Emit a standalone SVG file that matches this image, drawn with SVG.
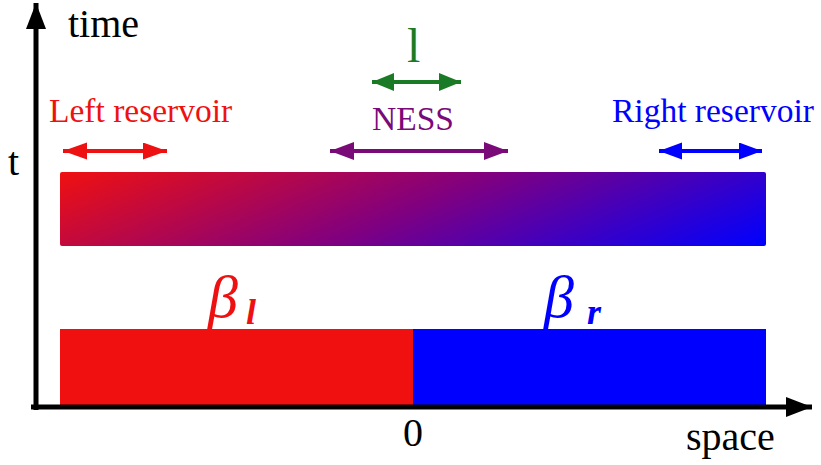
<svg xmlns="http://www.w3.org/2000/svg" width="821" height="465" viewBox="0 0 821 465">
  <style>
    .lbl { font-size: 33.5px; }
    .ax { font-size: 40px; fill: #000; }
    .beta { font-style: italic; font-size: 60px; }
    .sub { font-style: italic; font-weight: bold; font-size: 36px; }
    .axis { stroke: #000; stroke-width: 5; fill: none; }
    .dbl { stroke-width: 4; fill: none; }
  </style>
  <defs>
    <linearGradient id="grad" gradientUnits="userSpaceOnUse" x1="60" y1="172" x2="192" y2="486">
      <stop offset="0" stop-color="#f01010"/>
      <stop offset="0.5" stop-color="#800080"/>
      <stop offset="1" stop-color="#0000ff"/>
    </linearGradient>
    <marker id="hk" markerUnits="userSpaceOnUse" markerWidth="28" markerHeight="22" refX="26" refY="10" orient="auto-start-reverse">
      <path d="M0,0 L26,10 L0,20 Z" fill="#000"/>
    </marker>
    <marker id="hr" markerUnits="userSpaceOnUse" markerWidth="26" markerHeight="20" refX="24" refY="8.5" orient="auto-start-reverse">
      <path d="M0,0 L24,8.5 L0,17 Z" fill="#ee1111"/>
    </marker>
    <marker id="hg" markerUnits="userSpaceOnUse" markerWidth="26" markerHeight="20" refX="22" refY="9" orient="auto-start-reverse">
      <path d="M0,0 L22,9 L0,18 Z" fill="#1a7a25"/>
    </marker>
    <marker id="hp" markerUnits="userSpaceOnUse" markerWidth="26" markerHeight="20" refX="24" refY="9" orient="auto-start-reverse">
      <path d="M0,0 L24,9 L0,18 Z" fill="#7a0a78"/>
    </marker>
    <marker id="hb" markerUnits="userSpaceOnUse" markerWidth="26" markerHeight="20" refX="23" refY="8.5" orient="auto-start-reverse">
      <path d="M0,0 L23,8.5 L0,17 Z" fill="#0000ff"/>
    </marker>
  </defs>

  <g id="ness-bar">
    <rect x="60" y="172" width="706" height="74" rx="2" fill="url(#grad)"/>
  </g>
  <g id="initial-left">
    <rect x="60" y="329" width="353" height="76" fill="#f01010"/>
  </g>
  <g id="initial-right">
    <rect x="413" y="329" width="353" height="76" fill="#0000ff"/>
  </g>

  <g id="connectors">
    <line class="axis" x1="36" y1="410" x2="36" y2="3" marker-end="url(#hk)"/>
    <line class="axis" x1="31" y1="407" x2="812" y2="407" marker-end="url(#hk)"/>
    <line class="dbl" stroke="#ee1111" x1="63" y1="151" x2="167" y2="151" marker-start="url(#hr)" marker-end="url(#hr)"/>
    <line class="dbl" stroke="#1a7a25" x1="372" y1="82" x2="461" y2="82" marker-start="url(#hg)" marker-end="url(#hg)"/>
    <line class="dbl" stroke="#7a0a78" x1="330" y1="151" x2="508" y2="151" marker-start="url(#hp)" marker-end="url(#hp)"/>
    <line class="dbl" stroke="#0000ff" x1="659" y1="151" x2="762" y2="151" marker-start="url(#hb)" marker-end="url(#hb)"/>
  </g>

  <g id="labels" font-family="Liberation Serif, serif">
    <text class="ax" x="68" y="37">time</text>
    <text class="ax" x="8" y="175">t</text>
    <text class="ax" x="403" y="446">0</text>
    <text class="ax" x="686" y="450">space</text>
    <text class="lbl" x="49" y="122" fill="#ee1111">Left reservoir</text>
    <text class="lbl" x="612" y="122" fill="#0000ff">Right reservoir</text>
    <text class="lbl" x="372" y="130" fill="#7a0a78">NESS</text>
    <text x="407" y="62" font-size="48" fill="#1a7a25">l</text>
  </g>
  <g id="beta-l" font-family="Liberation Serif, serif">
    <text class="beta" x="208" y="317" fill="#ee1111">β</text>
    <text class="sub" x="246" y="324" fill="#ee1111">l</text>
  </g>
  <g id="beta-r" font-family="Liberation Serif, serif">
    <text class="beta" x="544" y="317" fill="#0000ff">β</text>
    <text class="sub" x="587" y="324" fill="#0000ff">r</text>
  </g>
</svg>
